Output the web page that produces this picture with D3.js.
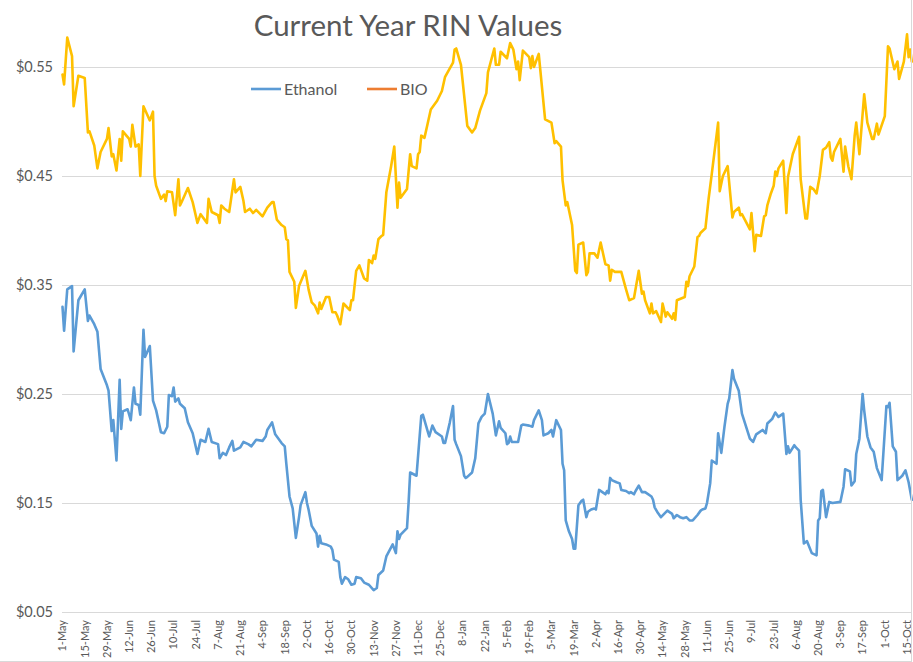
<!DOCTYPE html>
<html>
<head>
<meta charset="utf-8">
<script src="https://cdn.jsdelivr.net/npm/d3@7"></script>
<style>
  body { margin: 0; background: #fff; }
  svg { display: block; font-family: Lato, "Open Sans", sans-serif; }
</style>
</head>
<body>
<svg id="chart" width="913" height="662"></svg>
<script>
// Data: days counted from 1-May, values in $/RIN
const startDate = new Date(2017, 4, 1);
const tickDays = d3.range(0, 533, 14);
const yTicks = [0.05, 0.15, 0.25, 0.35, 0.45, 0.55];

const ethDays = [0,1,3,6,7,10,14,16,17,20,22,24,28,29,31,32,34,36,37,38,41,43,45,46,48,49,51,52,55,57,59,62,64,66,67,69,70,71,73,74,77,79,82,85,87,90,92,94,98,99,101,103,105,107,108,112,114,117,119,122,126,128,129,132,134,138,140,141,143,145,147,149,150,153,154,155,157,160,161,162,163,166,169,170,171,174,175,176,178,180,182,184,185,188,190,193,196,198,199,202,204,208,210,211,212,213,217,218,219,223,226,227,230,231,233,235,239,240,241,244,246,247,248,251,253,254,255,258,260,262,264,266,268,271,273,275,276,279,280,281,282,283,287,289,290,294,296,297,300,302,303,306,308,309,311,314,315,316,317,319,321,322,323,325,327,328,330,331,333,335,336,338,341,342,343,344,345,346,349,351,352,355,357,358,360,361,363,365,367,371,372,373,375,377,379,381,384,385,387,389,391,393,395,397,400,402,403,405,406,408,409,412,413,415,417,419,420,422,423,426,428,433,435,437,441,443,444,447,449,451,454,456,457,458,461,462,464,465,467,469,472,475,476,477,478,479,481,483,485,490,492,493,496,497,499,500,502,504,505,507,509,511,513,516,519,520,521,523,525,526,529,531,533,535];
const ethValues = [.330,.308,.346,.349,.289,.336,.346,.317,.322,.314,.307,.273,.258,.253,.216,.226,.189,.263,.218,.234,.236,.226,.256,.241,.240,.231,.309,.284,.294,.244,.235,.215,.214,.220,.249,.248,.256,.243,.246,.241,.237,.224,.214,.195,.208,.206,.218,.206,.204,.191,.196,.194,.201,.207,.198,.201,.206,.204,.202,.208,.207,.211,.217,.224,.213,.205,.202,.186,.156,.145,.118,.137,.148,.160,.150,.144,.129,.122,.110,.120,.113,.112,.110,.107,.098,.096,.082,.076,.082,.080,.075,.076,.082,.081,.077,.075,.070,.072,.084,.088,.101,.112,.104,.124,.117,.121,.127,.150,.178,.175,.230,.231,.216,.211,.221,.215,.211,.205,.205,.224,.239,.208,.204,.193,.175,.173,.174,.178,.191,.223,.229,.232,.250,.232,.212,.225,.219,.214,.204,.205,.211,.206,.206,.221,.222,.221,.220,.226,.235,.226,.212,.214,.217,.211,.226,.217,.186,.180,.134,.124,.117,.108,.108,.148,.152,.153,.137,.142,.144,.145,.144,.162,.159,.158,.161,.159,.173,.171,.169,.168,.162,.161,.159,.160,.158,.161,.166,.160,.160,.156,.153,.146,.141,.137,.140,.143,.140,.136,.139,.137,.136,.137,.134,.134,.139,.143,.144,.145,.150,.168,.189,.186,.214,.196,.220,.241,.246,.272,.264,.253,.232,.209,.206,.213,.217,.214,.223,.227,.233,.229,.232,.195,.202,.196,.203,.201,.198,.153,.113,.115,.104,.102,.134,.136,.161,.162,.137,.151,.150,.151,.165,.181,.179,.166,.170,.195,.209,.250,.235,.211,.201,.197,.182,.171,.239,.238,.242,.202,.197,.171,.175,.180,.169,.153];

const bioDays = [0,1,3,6,7,10,14,16,17,20,22,24,28,29,31,32,34,36,37,38,42,43,44,46,48,49,51,55,57,58,59,62,64,65,66,69,71,73,74,75,79,82,85,87,91,92,94,98,99,100,102,105,108,109,112,114,115,118,120,122,126,129,132,133,135,138,140,141,142,143,146,147,149,153,155,157,159,161,162,163,166,168,170,172,173,175,177,181,182,183,185,187,190,192,193,195,196,197,199,201,202,204,207,209,211,212,213,217,219,220,223,224,225,226,228,230,232,236,239,241,246,247,248,251,255,258,260,263,267,268,272,273,275,276,280,282,284,286,287,288,290,294,295,296,297,300,304,308,310,311,314,315,317,318,321,323,324,325,328,330,331,332,335,337,339,342,344,345,346,348,352,355,357,360,363,365,366,367,370,371,372,374,377,378,380,381,384,385,386,387,392,393,394,395,398,400,401,402,405,407,409,413,414,416,419,422,423,426,427,428,433,434,436,437,440,442,443,444,446,448,449,450,451,454,456,457,460,464,465,468,469,471,473,475,477,479,481,483,484,485,486,490,492,493,495,497,499,500,502,505,507,510,511,513,514,518,520,521,524,526,527,530,532,533,534,535];
const bioValues = [.543,.534,.577,.560,.514,.542,.540,.490,.491,.478,.457,.472,.484,.494,.468,.470,.455,.484,.464,.491,.484,.477,.497,.477,.479,.450,.514,.501,.509,.450,.441,.429,.433,.427,.436,.435,.414,.447,.423,.426,.439,.426,.407,.415,.407,.429,.417,.414,.407,.423,.420,.417,.447,.435,.440,.427,.417,.420,.416,.419,.413,.421,.426,.426,.410,.405,.403,.392,.391,.362,.353,.329,.349,.363,.346,.334,.331,.324,.334,.328,.339,.339,.325,.325,.322,.314,.333,.327,.336,.336,.363,.368,.356,.354,.373,.370,.377,.374,.392,.395,.396,.435,.459,.477,.421,.444,.430,.438,.470,.459,.457,.470,.472,.487,.485,.498,.511,.519,.528,.541,.554,.566,.567,.552,.496,.490,.494,.510,.526,.545,.567,.552,.552,.564,.558,.572,.566,.548,.555,.538,.565,.559,.549,.560,.550,.562,.502,.499,.480,.482,.477,.446,.423,.426,.405,.363,.361,.387,.389,.359,.362,.379,.379,.375,.389,.369,.368,.354,.364,.362,.362,.346,.336,.338,.363,.342,.344,.336,.324,.333,.324,.326,.316,.333,.321,.325,.319,.324,.318,.336,.339,.353,.349,.358,.367,.394,.395,.398,.402,.429,.452,.499,.436,.450,.459,.412,.417,.421,.414,.415,.401,.416,.381,.396,.395,.413,.414,.423,.433,.441,.454,.450,.457,.464,.416,.449,.470,.486,.447,.411,.411,.440,.438,.434,.450,.474,.476,.481,.467,.464,.472,.484,.454,.477,.459,.447,.487,.499,.470,.525,.499,.484,.484,.498,.488,.505,.569,.567,.548,.555,.539,.555,.580,.559,.566,.555];

const seriesNames = ["Ethanol", "BIO"];
const lineColors = ["#5B9BD5", "#FFC000"];
const legendColors = ["#5B9BD5", "#ED7D31"];

const svg = d3.select('#chart');
const textColor = '#595959';

const toDate = d => d3.timeDay.offset(startDate, d);

const x = d3.scaleTime()
  .domain([startDate, toDate(535)])
  .range([62.5, 911.8]);

const y = d3.scaleLinear()
  .domain([0.05, 0.6])
  .range([612, 12.5]);

// gridlines
svg.append('g')
  .selectAll('line')
  .data(yTicks)
  .enter().append('line')
  .attr('x1', 62).attr('x2', 911)
  .attr('y1', d => Math.round(y(d)) + 0.5)
  .attr('y2', d => Math.round(y(d)) + 0.5)
  .attr('stroke', '#D9D9D9')
  .attr('stroke-width', 1);

// y labels
svg.append('g')
  .selectAll('text')
  .data(yTicks)
  .enter().append('text')
  .attr('x', 53)
  .attr('y', d => y(d))
  .attr('dy', '0.35em')
  .attr('text-anchor', 'end')
  .attr('font-size', 14.5)
  .attr('fill', textColor)
  .text(d => '$' + d.toFixed(2));

// x labels (rotated)
const fmt = d3.timeFormat('%-d-%b');
svg.append('g')
  .selectAll('text')
  .data(tickDays)
  .enter().append('text')
  .attr('transform', d => `translate(${x(toDate(d))},620) rotate(-90)`)
  .attr('dy', '0.35em')
  .attr('text-anchor', 'end')
  .attr('font-size', 11)
  .attr('fill', textColor)
  .text(d => fmt(toDate(d)));

// lines
const line = d3.line()
  .x(d => x(toDate(d[0])))
  .y(d => y(d[1]));

const ethData = ethDays.map((d, i) => [d, ethValues[i]]);
const bioData = bioDays.map((d, i) => [d, bioValues[i]]);

[ethData, bioData].forEach((data, i) => {
  svg.append('path')
    .datum(data)
    .attr('d', line)
    .attr('fill', 'none')
    .attr('stroke', lineColors[i])
    .attr('stroke-width', 2.6)
    .attr('stroke-linejoin', 'round')
    .attr('stroke-linecap', 'round');
});

// title
svg.append('text')
  .attr('x', 408)
  .attr('y', 36)
  .attr('text-anchor', 'middle')
  .attr('font-size', 29.5)
  .attr('fill', textColor)
  .text('Current Year RIN Values');

// legend
const legendX = [251, 367];
seriesNames.forEach((name, i) => {
  svg.append('line')
    .attr('x1', legendX[i]).attr('x2', legendX[i] + 30)
    .attr('y1', 89).attr('y2', 89)
    .attr('stroke', legendColors[i])
    .attr('stroke-width', 2.6);
  svg.append('text')
    .attr('x', legendX[i] + 33)
    .attr('y', 89)
    .attr('dy', '0.35em')
    .attr('font-size', 16)
    .attr('fill', textColor)
    .text(name);
});

// chart border (right and bottom edges visible)
svg.append('line')
  .attr('x1', 911.5).attr('x2', 911.5).attr('y1', 0).attr('y2', 662)
  .attr('stroke', '#D9D9D9');
svg.append('line')
  .attr('x1', 0).attr('x2', 912).attr('y1', 661.5).attr('y2', 661.5)
  .attr('stroke', '#D9D9D9');
</script>
</body>
</html>
